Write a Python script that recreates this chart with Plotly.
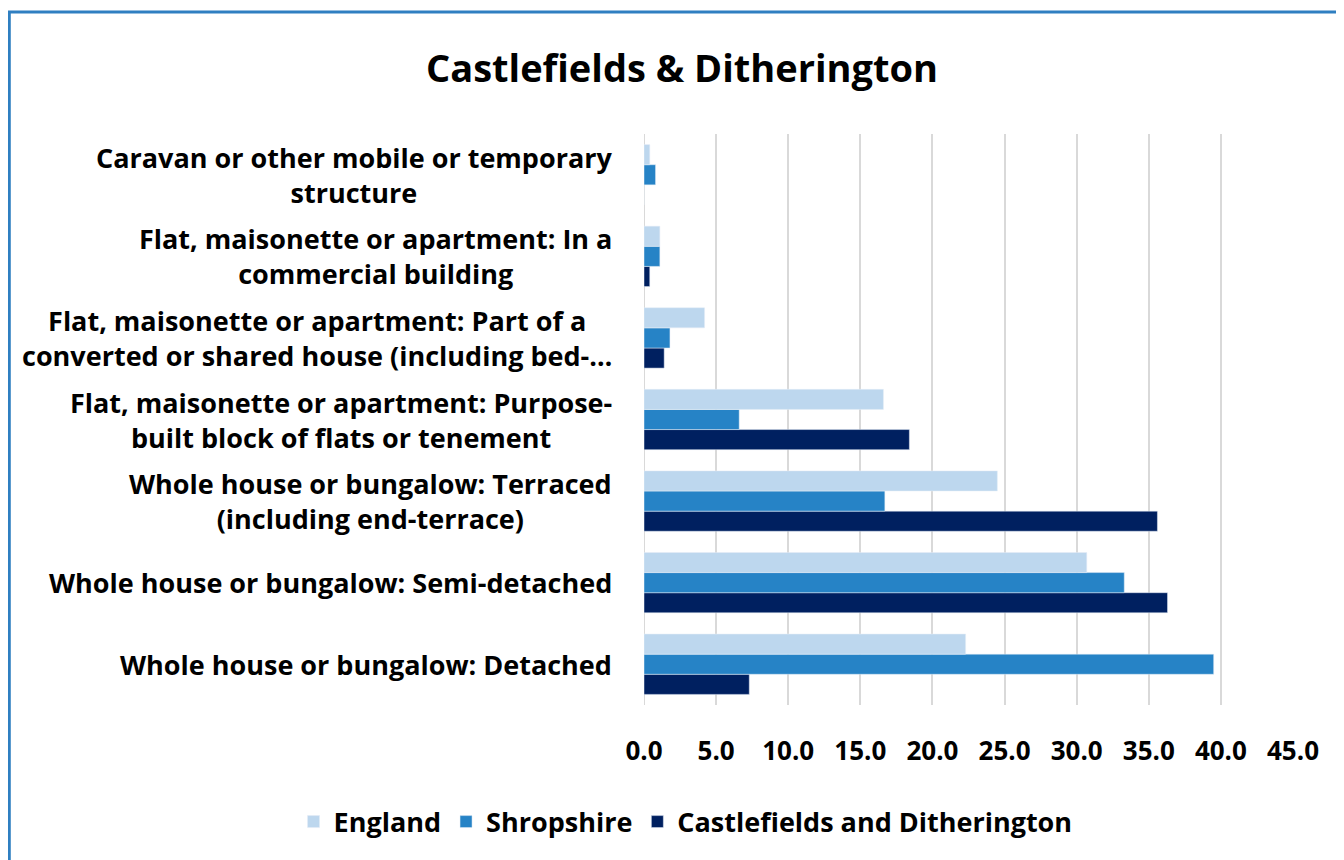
'''
Castlefields & Ditherington - accommodation type
'''

import plotly.graph_objects as go

categories = [
    'Whole house or bungalow: Detached',
    'Whole house or bungalow: Semi-detached',
    'Whole house or bungalow: Terraced<br>(including end-terrace)',
    'Flat, maisonette or apartment: Purpose-<br>built block of flats or tenement',
    'Flat, maisonette or apartment: Part of a<br>converted or shared house (including bed-…',
    'Flat, maisonette or apartment: In a<br>commercial building',
    'Caravan or other mobile or temporary<br>structure',
]

england = [22.3, 30.7, 24.5, 16.6, 4.2, 1.1, 0.4]
shropshire = [39.5, 33.3, 16.7, 6.6, 1.8, 1.1, 0.8]
castlefields = [7.3, 36.3, 35.6, 18.4, 1.4, 0.4, 0.0]

tick_vals = [0, 5, 10, 15, 20, 25, 30, 35, 40, 45]

font_family = 'Open Sans'

fig = go.Figure()

# added bottom-to-top so England sits on top of each group
fig.add_trace(go.Bar(y=categories, x=castlefields, name='Castlefields and Ditherington',
                     orientation='h', marker_color='#002060'))
fig.add_trace(go.Bar(y=categories, x=shropshire, name='Shropshire',
                     orientation='h', marker_color='#2683C6'))
fig.add_trace(go.Bar(y=categories, x=england, name='England',
                     orientation='h', marker_color='#BDD7EE'))

# category labels as centred annotations
for cat in categories:
    fig.add_annotation(x=0, y=cat, xref='paper', yref='y', text=cat,
                       xanchor='right', xshift=-30, align='center', showarrow=False,
                       font=dict(family=font_family, size=27, color='black', weight='bold'))

# outer chart frame
fig.add_shape(type='rect', xref='paper', yref='paper',
              x0=-0.978, x1=1.2, y0=-0.4, y1=1.2137,
              line=dict(color='#2F7FC1', width=3), fillcolor='rgba(0,0,0,0)', layer='below')

# axis line at zero drawn like the gridlines
fig.add_shape(type='line', xref='x', yref='paper', x0=0, x1=0, y0=0, y1=1,
              line=dict(color='#D9D9D9', width=2), layer='below')

fig.update_layout(
    width=1344, height=860,
    margin=dict(l=636, r=59, t=126, b=163),
    paper_bgcolor='white', plot_bgcolor='white',
    title=dict(text='<b>Castlefields & Ditherington</b>', x=0.5015, y=0.930,
               xref='container', yref='container', xanchor='center', yanchor='middle',
               font=dict(family=font_family, size=38, color='black')),
    barmode='group', bargap=0.26, bargroupgap=0,
    xaxis=dict(range=[0, 45], tickvals=tick_vals, tickformat='.1f',
               showgrid=True, gridcolor='#D9D9D9', gridwidth=2,
               zeroline=False, showline=False, ticks='', ticklabelstandoff=28,
               tickfont=dict(family=font_family, size=26, color='black', weight='bold')),
    yaxis=dict(showticklabels=False, showgrid=False, zeroline=False,
               showline=False, ticks=''),
    # anchored left of the plot area so the horizontal legend is allowed to be wide
    legend=dict(orientation='h', traceorder='reversed', xref='paper', yref='paper',
                x=-0.54, y=-0.205, xanchor='left', yanchor='middle',
                font=dict(family=font_family, size=27, color='black', weight='bold'),
                itemwidth=30),
)

fig.write_html('out.html')
